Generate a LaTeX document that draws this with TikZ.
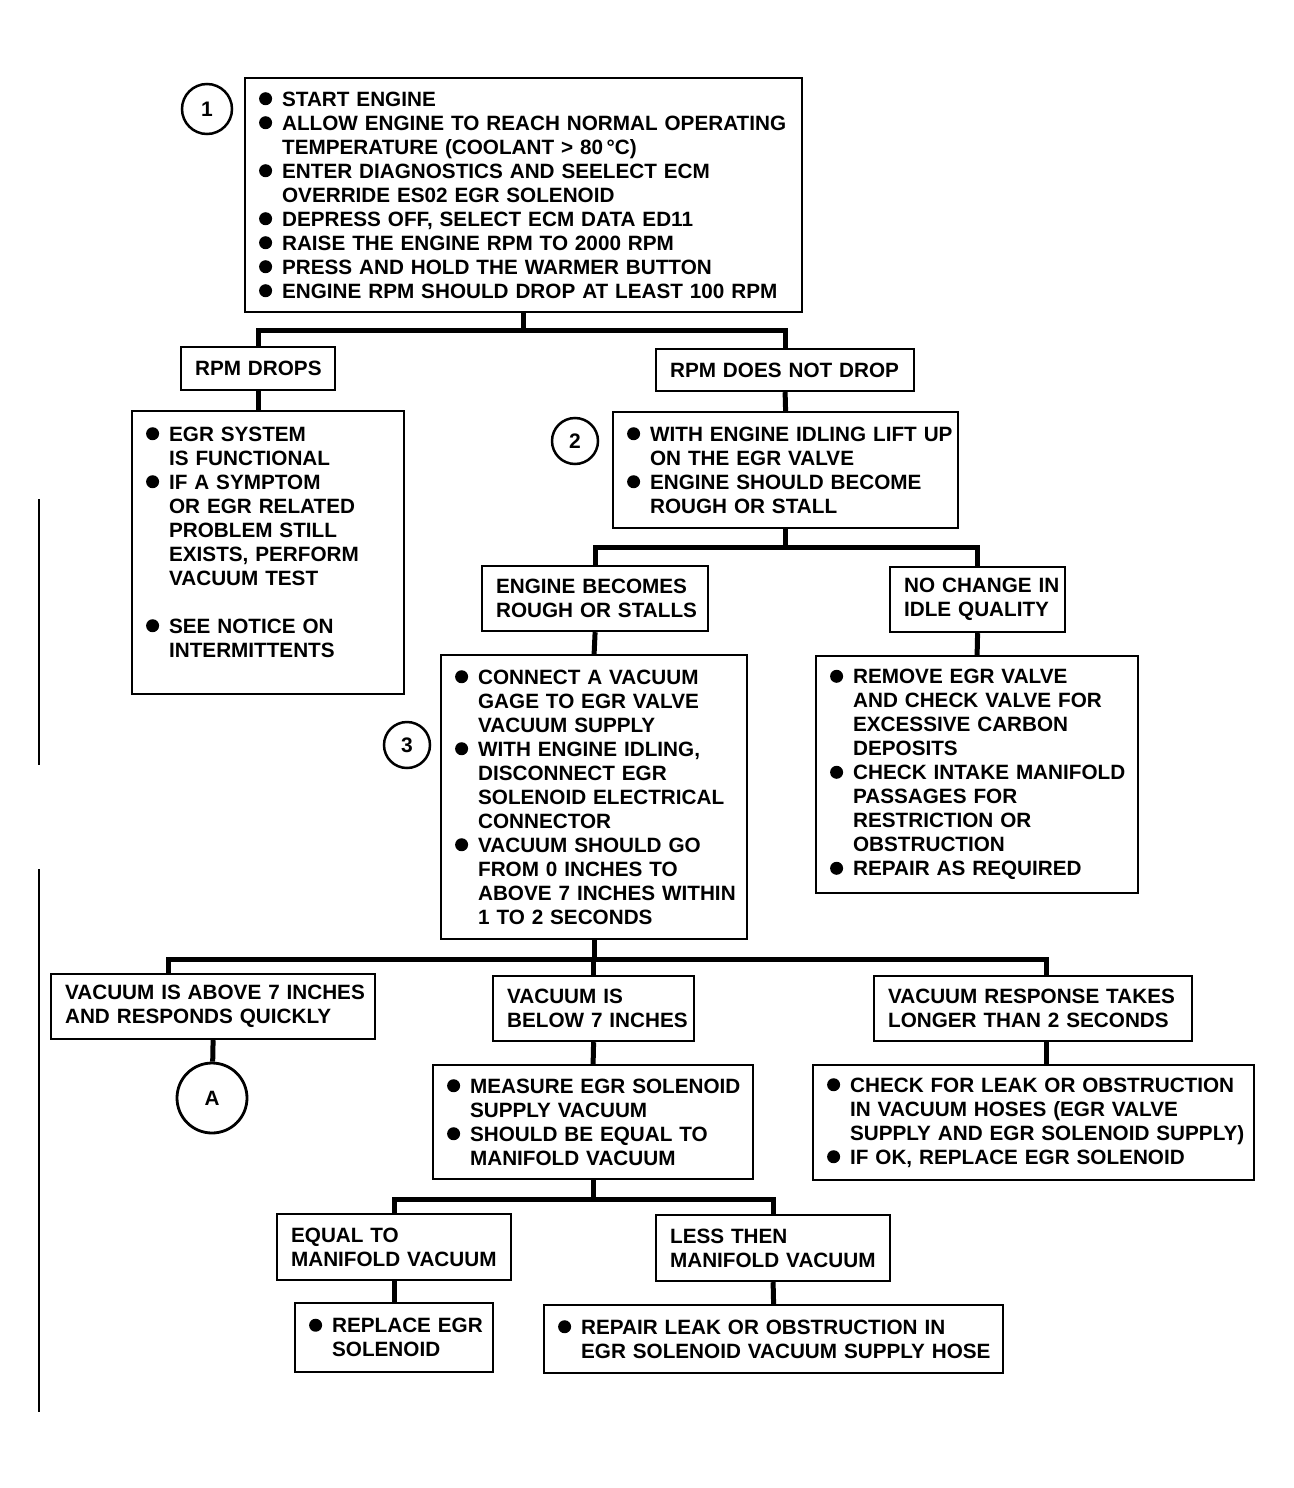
\documentclass[tikz,border=0pt]{standalone}
\usepackage{fontspec}
\setmainfont{Liberation Sans}

\newlength{\bind}
\setlength{\bind}{23pt}
\newcommand{\bul}{\leftskip=\dimexpr10pt+\bind\relax\noindent\llap{\makebox[\bind][l]{\raisebox{1pt}{\tikz\fill (0,0) circle (6.5pt);}}}}

\begin{document}
\begin{tikzpicture}[
    x=1pt, y=-1pt,
    tbox/.style={draw, line width=2.2pt, anchor=north west, inner xsep=4pt, inner ysep=0pt, align=left,
        font=\bfseries\fontsize{20.7}{24}\selectfont, execute at begin node={\leftskip=10pt}},
    num/.style={draw, circle, line width=2.5pt, inner sep=0pt, font=\bfseries\fontsize{21}{24}\selectfont},
    link/.style={line width=5pt}
]
\useasboundingbox (0,0) rectangle (1293,1488);

% Nodes
\node [tbox, text width=549pt, minimum height=234pt] (start) at (244,77) {%
\bul START ENGINE\\
\bul ALLOW ENGINE TO REACH NORMAL OPERATING\\ TEMPERATURE (COOLANT > 80\,°C)\\
\bul ENTER DIAGNOSTICS AND SEELECT ECM\\ OVERRIDE ES02 EGR SOLENOID\\
\bul DEPRESS OFF, SELECT ECM DATA ED11\\
\bul RAISE THE ENGINE RPM TO 2000 RPM\\
\bul PRESS AND HOLD THE WARMER BUTTON\\
\bul ENGINE RPM SHOULD DROP AT LEAST 100 RPM\par};
\node [num, minimum size=50pt] (c1) at (207,109) {1};

\node [tbox, text width=146pt, minimum height=43pt] (drops) at (180,346) {RPM DROPS};
\node [tbox, text width=250pt, minimum height=42pt] (nodrop) at (655,348) {RPM DOES NOT DROP};

\node [tbox, text width=264pt, minimum height=283pt] (func) at (131,410) {%
\bul EGR SYSTEM\\ IS FUNCTIONAL\\
\bul IF A SYMPTOM\\ OR EGR RELATED\\ PROBLEM STILL\\ EXISTS, PERFORM\\ VACUUM TEST\par
\vspace{24pt}
\bul SEE NOTICE ON\\ INTERMITTENTS\par
\vspace{21pt}\hrule height 0pt};

\node [tbox, text width=337pt, minimum height=116pt] (lift) at (612,411) {%
\bul WITH ENGINE IDLING LIFT UP\\ ON THE EGR VALVE\\
\bul ENGINE SHOULD BECOME\\ ROUGH OR STALL\par};
\node [num, minimum size=46pt] (c2) at (575,441) {2};

\node [tbox, text width=218pt, minimum height=65pt] (rough) at (481,565) {ENGINE BECOMES\\ ROUGH OR STALLS};
\node [tbox, text width=167pt, minimum height=65pt] (nochange) at (889,566) {NO CHANGE IN\\ IDLE QUALITY};

\node [tbox, text width=314pt, minimum height=237pt] (remove) at (815,655) {%
\bul REMOVE EGR VALVE\\ AND CHECK VALVE FOR\\ EXCESSIVE CARBON\\ DEPOSITS\\
\bul CHECK INTAKE MANIFOLD\\ PASSAGES FOR\\ RESTRICTION OR\\ OBSTRUCTION\\
\bul REPAIR AS REQUIRED\par};

\node [tbox, text width=298pt, minimum height=284pt] (gage) at (440,654) {%
\bul CONNECT A VACUUM\\ GAGE TO EGR VALVE\\ VACUUM SUPPLY\\
\bul WITH ENGINE IDLING,\\ DISCONNECT EGR\\ SOLENOID ELECTRICAL\\ CONNECTOR\\
\bul VACUUM SHOULD GO\\ FROM 0 INCHES TO\\ ABOVE 7 INCHES WITHIN\\ 1 TO 2 SECONDS\par};
\node [num, minimum size=46pt] (c3) at (407,745) {3};

\node [tbox, text width=316pt, minimum height=65pt] (above) at (50,973) {VACUUM IS ABOVE 7 INCHES\\ AND RESPONDS QUICKLY};
\node [tbox, text width=193pt, minimum height=65pt] (below) at (492,975) {VACUUM IS\\ BELOW 7 INCHES};
\node [tbox, text width=310pt, minimum height=65pt] (slow) at (873,975) {VACUUM RESPONSE TAKES\\ LONGER THAN 2 SECONDS};

\node [num, minimum size=70pt, line width=2.8pt, font=\bfseries\fontsize{20.7}{24}\selectfont] (circA) at (212,1098) {A};

\node [tbox, text width=312pt, minimum height=114pt] (measure) at (432,1064) {%
\bul MEASURE EGR SOLENOID\\ SUPPLY VACUUM\\
\bul SHOULD BE EQUAL TO\\ MANIFOLD VACUUM\par};
\node [tbox, text width=433pt, minimum height=115pt] (leak) at (812,1064) {%
\bul CHECK FOR LEAK OR OBSTRUCTION\\ IN VACUUM HOSES (EGR VALVE\\ SUPPLY AND EGR SOLENOID SUPPLY)\\
\bul IF OK, REPLACE EGR SOLENOID\par};

\node [tbox, text width=226pt, minimum height=66pt] (equal) at (276,1213) {EQUAL TO\\ MANIFOLD VACUUM};
\node [tbox, text width=226pt, minimum height=66pt] (less) at (655,1214) {LESS THEN\\ MANIFOLD VACUUM};

\node [tbox, text width=190pt, minimum height=69pt] (replace) at (294,1302) {%
\bul REPLACE EGR\\ SOLENOID\par};
\node [tbox, text width=451pt, minimum height=68pt] (repair) at (543,1304) {%
\bul REPAIR LEAK OR OBSTRUCTION IN\\ EGR SOLENOID VACUUM SUPPLY HOSE\par};

% Edges
\draw [link] (start.south) -- ++(0,17) coordinate (f1);
\draw [link] (drops.north) |- (f1) -| (nodrop.north);
\draw [link] (drops.south) -- (drops.south |- func.north);
\draw [link] (nodrop.south) -- (lift.north);

\draw [link] (lift.south) -- ++(0,18) coordinate (f2);
\draw [link] (rough.north) |- (f2) -| (nochange.north);
\draw [link] (rough.south) -- (gage.north);
\draw [link] (nochange.south) -- (remove.north);

\draw [link] (gage.south) -- ++(0,19) coordinate (f3);
\coordinate (abovein) at ([xshift=-45pt]above.north);
\coordinate (slowin) at ([xshift=13pt]slow.north);
\draw [link] (abovein) |- (f3) -| (slowin);
\draw [link] (below.north) -- (below.north |- f3);
\draw [link] (above.south) -- (circA);
\draw [link] (below.south) -- (measure.north);
\coordinate (slowout) at ([xshift=13pt]slow.south);
\draw [link] (slowout) -- (slowout |- leak.north);

\draw [link] (measure.south) -- ++(0,19) coordinate (f4);
\draw [link] (equal.north) |- (f4) -| (less.north);
\draw [link] (equal.south) -- (replace.north);
\draw [link] (less.south) -- (repair.north);

% scan edge
\draw [line width=1.5pt] (39,499) -- (39,765);
\draw [line width=1.5pt] (39,869) -- (39,1412);

\end{tikzpicture}
\end{document}
